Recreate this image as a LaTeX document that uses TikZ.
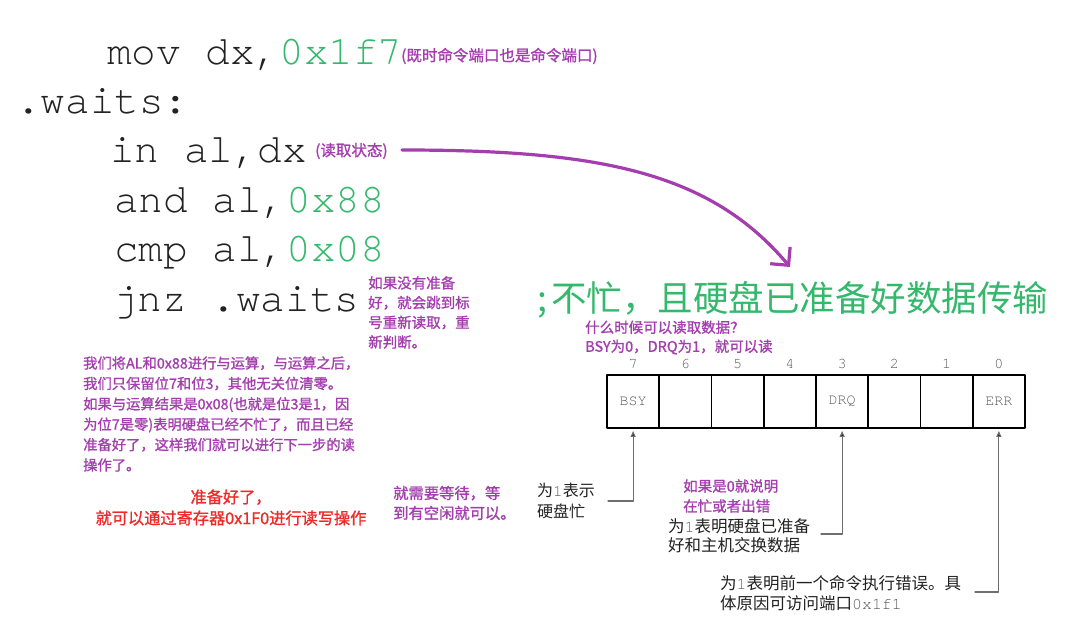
\documentclass[tikz,border=0pt]{standalone}
\usepackage{fontspec}
\setmonofont{TeX Gyre Cursor}
\newfontfamily\cjk{Noto Sans CJK SC}
\newfontfamily\cjkb{Noto Sans CJK SC}[FakeBold=1.2]
\usetikzlibrary{arrows.meta}
\definecolor{codeblack}{RGB}{34,34,34}
\definecolor{hexgreen}{RGB}{52,184,108}
\definecolor{notepurple}{RGB}{164,62,174}
\definecolor{notered}{RGB}{240,40,40}
\definecolor{linegray}{RGB}{110,110,110}
\definecolor{monogray}{RGB}{90,90,90}
\newcommand\gnum[1]{{\ttfamily\color{monogray}#1}}

\begin{document}
\begin{tikzpicture}[x=1pt, y=-1pt, line join=round, line cap=round,
    code/.style={anchor=base west, inner sep=0, text=codeblack, font=\ttfamily\fontsize{41}{49}\selectfont},
    note/.style={anchor=west, inner sep=0, align=left, text=notepurple, font=\cjkb\fontsize{15}{18}\selectfont},
    blacknote/.style={anchor=west, inner sep=0, align=left, text=codeblack, font=\cjk\fontsize{16.5}{20}\selectfont},
    bitcell/.style={draw=black, line width=1.9pt, minimum width=52.25pt, minimum height=53pt, inner sep=0},
    bitnum/.style={inner sep=0, text=monogray, font=\ttfamily\fontsize{15}{15}\selectfont},
    pointer/.style={draw=linegray, line width=1.2pt, -{Triangle[length=6pt,width=5pt,fill=black]}}]
  \fill[white] (0,0) rectangle (1069,636);
  \useasboundingbox (0,0) rectangle (1069,636);
  % Code lines
  \node[code] (movline) at (107,65) {mov dx,\textcolor{hexgreen}{0x1f7}};
  \node[code] (waitsline) at (16,114) {.waits:};
  \node[code] (inline) at (110,163) {in al,dx};
  \node[code] (andline) at (114,213) {and al,\textcolor{hexgreen}{0x88}};
  \node[code] (cmpline) at (114,262) {cmp al,\textcolor{hexgreen}{0x08}};
  \node[code] (jnzline) at (113,312) {jnz .waits};
  % Notes beside the code
  \node[note, font=\cjkb\fontsize{15.5}{18}\selectfont] (portnote) at (401,56) {(既时命令端口也是命令端口)};
  \node[note, font=\cjkb\fontsize{15.5}{18}\selectfont] (statenote) at (315,151) {(读取状态)};
  \node[note, font=\cjkb\fontsize{14.5}{19.7}\selectfont] (jumpnote) at (368,312.5)
    {如果没有准备\\好，就会跳到标\\号重新读取，重\\新判断。};
  \node[anchor=west, inner sep=0, text=hexgreen, font=\cjk\fontsize{35.5}{40}\selectfont] (busytext) at (537,300)
    {;\hspace{4pt}不忙，且硬盘已准备好数据传输};
  \node[note, font=\cjkb\fontsize{14.5}{19}\selectfont] (whennote) at (585,337.5)
    {什么时候可以读取数据？\\BSY为0，DRQ为1，就可以读};
  \node[note, font=\cjkb\fontsize{14.3}{20.4}\selectfont] (andnote) at (83,414)
    {我们将AL和0x88进行与运算，与运算之后，\\我们只保留位7和位3，其他无关位清零。\\如果与运算结果是0x08(也就是位3是1，因\\为位7是零)表明硬盘已经不忙了，而且已经\\准备好了，这样我们就可以进行下一步的读\\操作了。};
  \node[note, anchor=center, align=center, text=notered, font=\cjkb\fontsize{16.2}{21}\selectfont] (readynote) at (231,507.5)
    {准备好了，\\就可以通过寄存器0x1F0进行读写操作};
  \node[note, font=\cjkb\fontsize{15.3}{20}\selectfont] (waitnote) at (393,503)
    {就需要等待，等\\到有空闲就可以。};
  % Status register
  \foreach \b in {0,...,7}{
    \node[bitcell] (bit\b) at ({1025-52.25*(\b+0.5)},401.5) {};
    \node[bitnum] (num\b) at ({1025-52.25*(\b+0.5)},364) {\b};
  }
  \node[bitnum] (bsy) at (bit7) {BSY};
  \node[bitnum] (drq) at (bit3) {DRQ};
  \node[bitnum] (err) at (bit0) {ERR};
  % Bit descriptions
  \node[blacknote, font=\cjk\fontsize{16}{21}\selectfont] (bsynote) at (537,500.5) {为\gnum{1}表示\\硬盘忙};
  \node[note, font=\cjkb\fontsize{14.5}{20}\selectfont] (busyerr) at (683,496) {如果是0就说明\\在忙或者出错};
  \node[blacknote, font=\cjk\fontsize{16.5}{19.5}\selectfont] (drqnote) at (668,535.5) {为\gnum{1}表明硬盘已准备\\好和主机交换数据};
  \node[blacknote] (errnote) at (720,593) {为\gnum{1}表明前一个命令执行错误。具\\体原因可访问端口\gnum{0x1f1}};
  \coordinate (bsyfoot) at (608,501);
  \coordinate (drqfoot) at (821,534);
  \coordinate (errfoot) at (975,592);
  \draw[pointer] (bsyfoot) -| ([yshift=-2pt]bit7.south);
  \draw[pointer] (drqfoot) -| ([yshift=-2pt]bit3.south);
  \draw[pointer] (errfoot) -| ([yshift=-2pt]bit0.south);
  % Purple arrow
  \coordinate (arrowtail) at (402,150);
  \coordinate (arrowtip) at (790,267);
  \draw[draw=notepurple, line width=3.2pt, -{Straight Barb[length=13pt,width=26pt]}]
    (arrowtail) .. controls (600,150) and (710,172) .. (arrowtip);
\end{tikzpicture}
\end{document}
